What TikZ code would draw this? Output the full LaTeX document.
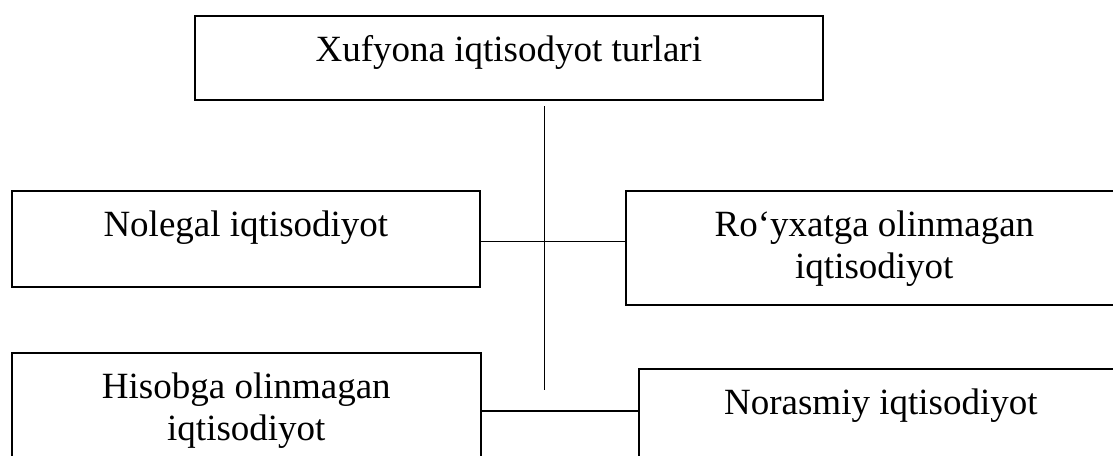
\documentclass[tikz,border=0pt]{standalone}
\usepackage{fontspec}
\setmainfont{Liberation Serif}
\newcommand\bxtext[3]{\parbox[c][#2pt][t]{#1pt}{\centering\fontsize{37}{42}\selectfont\rule{0pt}{46pt}#3\par}}
\tikzset{
  boxnode/.style={draw=black, line width=1.7pt, inner sep=0pt, anchor=north west},
  conn/.style={draw=black, line width=1.4pt}
}
\begin{document}
\begin{tikzpicture}[x=1pt, y={(0pt,-1pt)}]
\useasboundingbox (0,0) rectangle (1113,455);
\clip (0,0) rectangle (1113,455);
\node[boxnode] (top) at (194,15) {\bxtext{628}{84}{Xufyona iqtisodyot turlari}};
\node[boxnode] (nolegal) at (11,190) {\bxtext{468}{96}{Nolegal iqtisodiyot}};
\node[boxnode] (royxat) at (625,190) {\bxtext{497}{114}{Ro‘yxatga olinmagan\\iqtisodiyot}};
\node[boxnode] (hisob) at (11,352) {\bxtext{469}{130}{Hisobga olinmagan\\iqtisodiyot}};
\node[boxnode] (noras) at (638,368) {\bxtext{484}{120}{Norasmiy iqtisodiyot}};
\coordinate (vtop) at (544.5,106);
\coordinate (vbot) at (544.5,390);
\draw[conn] (vtop) -- (vbot);
\draw[conn] (nolegal.east |- 0,241.5) -- (royxat.west |- 0,241.5);
\draw[conn] (hisob.east |- 0,411) -- (noras.west |- 0,411);
\end{tikzpicture}
\end{document}
